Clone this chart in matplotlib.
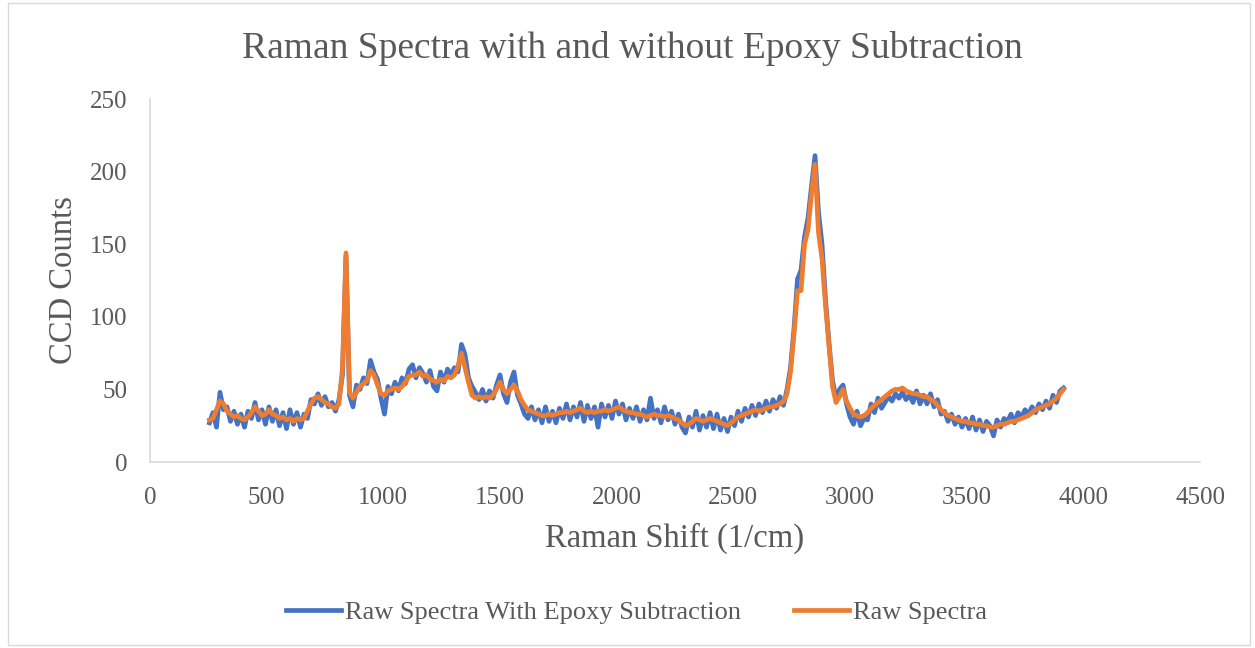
import numpy as np
import matplotlib
matplotlib.use('Agg')
import matplotlib.pyplot as plt
from matplotlib.patches import Rectangle

# Raman shift grid (1/cm), one reading every 15 1/cm starting at 255
shift_start = 255
shift_step = 15

# Raw spectra (orange)
raw = [29, 30, 36, 42, 40, 35, 33, 31, 32, 30, 29, 31, 34, 38, 35, 32, 33, 36, 33, 32,
       30, 31, 29, 30, 28, 30, 29, 30, 35, 40, 44, 45, 43, 41, 40, 38, 37, 40, 65, 144,
       48, 44, 48, 52, 54, 56, 63, 60, 53, 47, 46, 49, 50, 51, 50, 52, 55, 59, 60, 60,
       62, 59, 60, 57, 56, 55, 57, 56, 59, 58, 60, 66, 75, 65, 55, 46, 44, 45, 44, 45,
       44, 46, 50, 55, 50, 47, 50, 53, 49, 43, 39, 36, 35, 34, 33, 32, 32, 33, 32, 33,
       34, 34, 35, 34, 35, 36, 37, 35, 34, 35, 34, 35, 35, 36, 35, 36, 37, 38, 36, 35,
       34, 34, 33, 33, 32, 31, 32, 33, 32, 32, 31, 32, 31, 30, 29, 27, 25, 26, 28, 30,
       29, 28, 29, 30, 29, 28, 27, 26, 25, 27, 29, 31, 32, 33, 34, 35, 36, 35, 36, 37,
       38, 38, 39, 40, 42, 47, 62, 88, 118, 118, 150, 160, 185, 205, 158, 140, 108, 80, 52, 41,
       45, 50, 42, 37, 33, 32, 31, 32, 34, 37, 39, 41, 43, 45, 47, 49, 50, 50, 51, 49,
       48, 47, 47, 46, 45, 45, 43, 42, 39, 36, 34, 32, 31, 30, 29, 28, 28, 27, 27, 26,
       26, 25, 25, 24, 24, 25, 26, 26, 27, 28, 28, 29, 30, 31, 32, 34, 36, 37, 38, 39,
       40, 42, 44, 47, 50]

# Raw spectra with epoxy subtraction (blue), noisier
subtracted = [27, 34, 24, 48, 36, 38, 28, 35, 26, 33, 24, 35, 30, 41, 29, 36, 26, 38, 28, 36,
              25, 34, 23, 36, 26, 34, 24, 33, 30, 43, 40, 47, 39, 45, 38, 41, 35, 43, 60, 142,
              46, 38, 53, 50, 58, 54, 70, 62, 57, 44, 33, 52, 47, 55, 49, 58, 54, 64, 67, 58,
              65, 61, 55, 63, 52, 49, 62, 55, 64, 60, 65, 62, 81, 74, 58, 52, 48, 43, 50, 42,
              49, 44, 53, 60, 47, 41, 55, 62, 46, 40, 33, 30, 38, 29, 36, 27, 38, 28, 35, 27,
              37, 30, 40, 29, 38, 31, 41, 28, 39, 30, 38, 24, 40, 31, 39, 30, 42, 33, 40, 29,
              37, 30, 38, 28, 36, 29, 44, 30, 36, 27, 38, 29, 35, 26, 33, 24, 20, 31, 24, 35,
              22, 32, 24, 34, 23, 33, 22, 30, 21, 31, 25, 35, 28, 37, 31, 39, 32, 40, 34, 42,
              35, 43, 37, 45, 39, 50, 65, 92, 126, 132, 155, 168, 190, 211, 172, 150, 112, 82, 56, 44,
              50, 53, 40, 31, 26, 35, 25, 30, 29, 40, 34, 44, 37, 41, 45, 42, 47, 44, 48, 43,
              46, 41, 49, 40, 46, 40, 47, 38, 43, 33, 35, 28, 33, 26, 31, 24, 30, 23, 31, 22,
              29, 21, 28, 25, 18, 29, 24, 30, 28, 33, 27, 34, 31, 36, 33, 38, 34, 40, 36, 42,
              37, 46, 41, 49, 51]

shift = shift_start + shift_step * np.arange(len(raw))

text_gray = '#595959'
plt.rcParams['font.family'] = ['Liberation Serif', 'DejaVu Serif']

fig = plt.figure(figsize=(12.55, 6.48), dpi=100)
ax = fig.add_axes([0.1195, 0.287, 0.8367, 0.5602])

ax.plot(shift, subtracted, color='#4472C4', lw=3.4, label='Raw Spectra With Epoxy Subtraction')
ax.plot(shift, raw, color='#ED7D31', lw=3.4, label='Raw Spectra')

ax.set_xlim(0, 4500)
ax.set_ylim(0, 250)
ax.set_xticks(np.arange(0, 4501, 500))
ax.set_yticks(np.arange(0, 251, 50))

for side in ['top', 'right']:
    ax.spines[side].set_visible(False)
ax.spines['left'].set_color('#d9d9d9')
ax.spines['bottom'].set_color('#d9d9d9')
ax.spines['left'].set_linewidth(1.2)
ax.spines['bottom'].set_linewidth(1.2)
ax.tick_params(axis='both', length=0, labelsize=18, colors=text_gray)
ax.tick_params(axis='y', pad=16)
ax.tick_params(axis='x', pad=18)

ax.set_xlabel('Raman Shift (1/cm)', fontsize=23.5, color=text_gray, labelpad=10)
ax.set_ylabel('CCD Counts', fontsize=23.5, color=text_gray, labelpad=8)
fig.suptitle('Raman Spectra with and without Epoxy Subtraction', fontsize=27,
             color=text_gray, x=0.5036, y=0.952)

fig.legend(loc='center', bbox_to_anchor=(0.507, 0.055), ncol=2, frameon=False,
           fontsize=19, handlelength=2.1, handletextpad=0.15, columnspacing=2.0,
           labelcolor=text_gray)

# chart area border
fig.patches.append(Rectangle((0.006, 0.004), 0.99, 0.992, transform=fig.transFigure,
                             fill=False, edgecolor='#d9d9d9', lw=1))

plt.savefig('out.png', dpi=100)
